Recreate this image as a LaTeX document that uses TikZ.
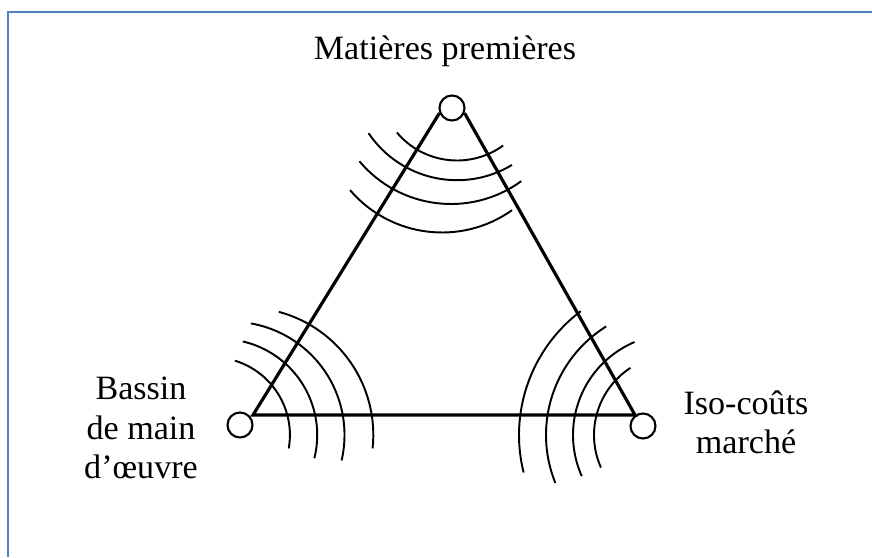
\documentclass[tikz,border=0pt]{standalone}
\usepackage{fontspec}
\setmainfont{Liberation Serif}
\definecolor{frameblue}{HTML}{4F81BD}

\begin{document}
\begin{tikzpicture}[
    lbl/.style={font=\fontsize{9.7}{11.2}\selectfont, align=center, inner sep=0pt},
    vtx/.style={circle, draw, line width=0.6pt, minimum size=2.5mm, inner sep=0pt},
    side/.style={line width=0.9pt},
    iso/.style={line width=0.55pt},
  ]
  \useasboundingbox (0,0) rectangle (8.72,5.57);
  \draw[frameblue, line width=0.7pt] (0.08,0) -- (0.08,5.45) -- (8.72,5.45);

  \node[vtx] (mp) at (4.52,4.49) {};
  \node[vtx] (mo) at (2.40,1.32) {};
  \node[vtx] (mc) at (6.43,1.31) {};
  \coordinate (bl) at (2.53,1.42);
  \coordinate (br) at (6.35,1.42);

  \node[lbl, anchor=base] (tmp) at (4.45,4.97) {Matières premières};
  \node[lbl] (tmo) at (1.41,1.29) {Bassin\\de main\\d’œuvre};
  \node[lbl] (tmc) at (7.46,1.35) {Iso-coûts\\marché};

  \draw[side] (mp.-158) -- (bl) -- (br) -- (mp.-22);

  % arcs around each pole
  \foreach \cx/\cy/\r/\a/\b in {4.57/4.75/0.785/-140/-54, 4.57/4.835/1.067/-146/-59,
      4.51/4.725/1.195/-140/-54, 4.42/4.455/1.21/-139.5/-54.6}
    \draw[iso] (\cx,\cy) ++(\a:\r) arc[start angle=\a, end angle=\b, radius=\r];
  \foreach \cx/\r/\a/\b in {2.122/0.777/73/-10, 2.212/0.96/77/-14,
      2.312/1.133/80/-13, 2.458/1.275/75/-6}
    \draw[iso] (\cx,1.22) ++(\a:\r) arc[start angle=\a, end angle=\b, radius=\r];
  \foreach \r/\a/\b in {0.80/123/204, 1.01/113/204, 1.28/122/202, 1.55/127/194}
    \draw[iso] (6.74,1.22) ++(\a:\r) arc[start angle=\a, end angle=\b, radius=\r];
\end{tikzpicture}
\end{document}
